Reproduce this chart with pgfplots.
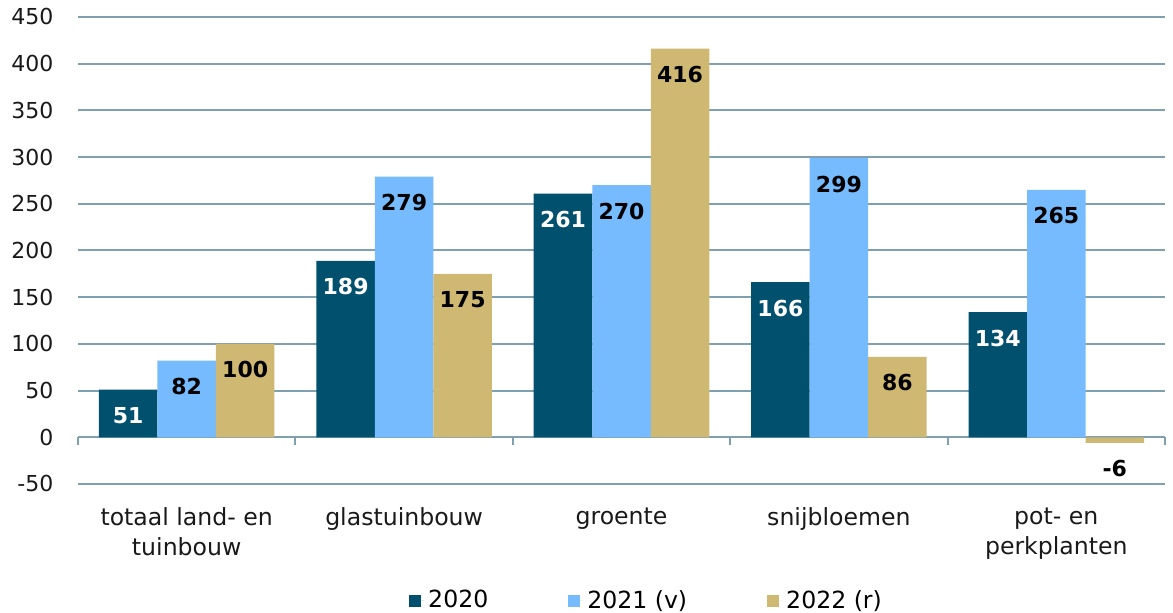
\documentclass[border=0pt]{standalone}
\usepackage{fontspec}
\setmainfont{DejaVu Sans}
\usepackage{pgfplots}
\pgfplotsset{compat=1.18}
\definecolor{c20}{RGB}{0,80,110}
\definecolor{c21}{RGB}{117,187,253}
\definecolor{c22}{RGB}{206,184,114}
\definecolor{gridc}{RGB}{127,160,176}
\begin{document}
\begin{tikzpicture}
\useasboundingbox (-39pt,-64.5pt) rectangle (547.5pt,242pt);
\begin{axis}[
  at={(0,0)}, anchor=south west,
  scale only axis, width=543.5pt, height=233.5pt,
  ymin=-50, ymax=450, ytick={-50,0,...,450},
  xmin=-0.5, xmax=4.5, xtick={0,...,4},
  xticklabels={{totaal land- en\\tuinbouw},{glastuinbouw},{groente},{snijbloemen},{pot- en\\perkplanten}},
  axis line style={draw=none},
  ymajorgrids, grid style={gridc, line width=1pt},
  major tick length=0pt,
  ybar=0pt, bar width=29.25pt,
  /pgf/number format/assume math mode=true,
  tick label style={text=black!90},
  yticklabel style={xshift=-8.8pt, font=\fontsize{11}{15}\selectfont},
  xticklabel style={align=center, yshift=-8.5pt, font=\fontsize{11.8}{15}\selectfont},
  clip=false,
  nodes near coords,
  every node near coord/.append style={font=\fontsize{11}{13}\selectfont\bfseries, anchor=center, yshift=-13pt},
  legend style={at={(0.524,-0.25)}, anchor=center, draw=none, legend columns=3,
    font=\fontsize{11.8}{13}\selectfont,
    /tikz/every even column/.append style={column sep=38pt}},
  legend image code/.code={\fill[#1] (0pt,-3pt) rectangle (6pt,3pt); \path (0pt,0pt) -- (7.5pt,0pt);},
]
\addplot[fill=c20, draw=none, every node near coord/.append style={text=white}] coordinates {(0,51) (1,189) (2,261) (3,166) (4,134)};
\addplot[fill=c21, draw=none, every node near coord/.append style={text=black}] coordinates {(0,82) (1,279) (2,270) (3,299) (4,265)};
\addplot[fill=c22, draw=none, every node near coord/.append style={text=black}] coordinates {(0,100) (1,175) (2,416) (3,86) (4,-6)};
\legend{2020,2021 (v),2022 (r)}
\pgfplotsinvokeforeach{-0.5,0.5,1.5,2.5,3.5,4.5}{
  \draw[gridc, line width=1pt] (axis cs:#1,0) -- ++(0pt,-4pt);
}
\end{axis}
\end{tikzpicture}
\end{document}
